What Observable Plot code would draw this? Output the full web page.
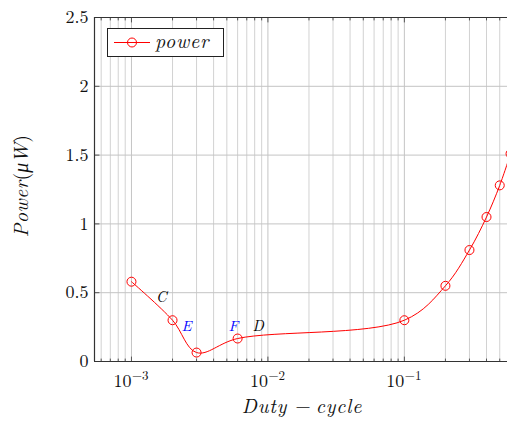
<!DOCTYPE html>
<html><head><meta charset="utf-8">
<script src="https://cdn.jsdelivr.net/npm/d3@7"></script>
<script src="https://cdn.jsdelivr.net/npm/@observablehq/plot@0.6"></script>
<style>body{margin:0;background:#fff} #chart{position:relative;width:507px;height:423px}</style>
</head><body><div id="chart"></div>
<script>
const dutyCycle = [0.001, 0.002, 0.003, 0.006, 0.1, 0.2, 0.3, 0.4, 0.5, 0.6];
const power = [0.58, 0.30, 0.065, 0.167, 0.30, 0.55, 0.81, 1.05, 1.28, 1.51];
const annoLabel = ["C", "E", "F", "D"];
const annoX = [0.00166, 0.00253, 0.00558, 0.0085];
const annoY = [0.47, 0.254, 0.254, 0.254];
const annoColor = ["black", "blue", "blue", "black"];
const yTicks = [0, 0.5, 1, 1.5, 2, 2.5];
const xMajor = [0.001, 0.01, 0.1];
const xExponent = ["−3", "−2", "−1"];
const xDomain = [0.000536, 0.57];
const yDomain = [0, 2.5];

const data = dutyCycle.map((d, i) => ({x: d, y: power[i]}));
const annos = annoLabel.map((t, i) => ({t, x: annoX[i], y: annoY[i], c: annoColor[i]}));
const xMinor = [];
for (let k = -4; k <= 0; k++) for (let m = 2; m <= 9; m++) {
  const v = m * Math.pow(10, k);
  if (v > xDomain[0] && v < xDomain[1]) xMinor.push(+v.toPrecision(3));
}
const FONT = "Latin Modern Roman";
const tickShape = {draw(ctx, l) { ctx.moveTo(0, 0); ctx.lineTo(0, -l); }};

const chart = Plot.plot({
  width: 507, height: 423,
  marginLeft: 94, marginRight: 0, marginTop: 17, marginBottom: 62,
  style: {fontFamily: FONT, fontSize: "17px", background: "white"},
  x: {type: "log", domain: xDomain, axis: null},
  y: {domain: yDomain, axis: null},
  marks: [
    Plot.ruleX(xMinor, {stroke: "#d2d2d2", strokeWidth: 1}),
    Plot.ruleX(xMajor, {stroke: "#c4c4c4", strokeWidth: 1}),
    Plot.ruleY(yTicks, {stroke: "#c4c4c4", strokeWidth: 1}),
    Plot.vector(xMinor, {x: d => d, frameAnchor: "bottom", length: 2.5, anchor: "start", shape: tickShape, stroke: "#555", strokeWidth: 1}),
    Plot.vector(xMinor, {x: d => d, frameAnchor: "top", length: 2.5, anchor: "start", rotate: 180, shape: tickShape, stroke: "#555", strokeWidth: 1}),
    Plot.vector(xMajor, {x: d => d, frameAnchor: "bottom", length: 4.5, anchor: "start", shape: tickShape, stroke: "#555", strokeWidth: 1}),
    Plot.vector(xMajor, {x: d => d, frameAnchor: "top", length: 4.5, anchor: "start", rotate: 180, shape: tickShape, stroke: "#555", strokeWidth: 1}),
    Plot.vector(yTicks, {y: d => d, frameAnchor: "left", length: 4.5, anchor: "start", rotate: 90, shape: tickShape, stroke: "#555", strokeWidth: 1}),
    Plot.ruleY([yDomain[0]], {stroke: "#333", strokeWidth: 1.2}),
    Plot.ruleY([yDomain[1]], {stroke: "#333", strokeWidth: 1.2}),
    Plot.ruleX([xDomain[0]], {stroke: "#333", strokeWidth: 1.2}),
    Plot.axisY({ticks: yTicks, tickSize: 0, tickPadding: 6, label: null, tickFormat: d => String(d), fontFamily: FONT, fontSize: 18, fill: "#111"}),
    Plot.text(xMajor, {x: d => d, text: () => "10", frameAnchor: "bottom", textAnchor: "end", lineAnchor: "bottom", dy: 25, dx: 0, fontFamily: FONT, fontSize: 18, fill: "#111"}),
    Plot.text(xMajor, {x: d => d, text: (d, i) => xExponent[i], frameAnchor: "bottom", textAnchor: "start", lineAnchor: "bottom", dy: 18, dx: 0.5, fontFamily: FONT, fontSize: 13, fill: "#111"}),
    Plot.line(data, {x: "x", y: "y", curve: "catmull-rom", stroke: "red", strokeWidth: 1}),
    Plot.dot(data, {x: "x", y: "y", r: 4.5, stroke: "red", strokeWidth: 1, fill: "none"}),
    Plot.text(annos, {x: "x", y: "y", text: "t", fill: "c", fontStyle: "italic", fontFamily: FONT, fontSize: 15})
  ]
});
document.getElementById("chart").appendChild(chart);

const svg = d3.select(chart);
// y-axis label
const yl = svg.append("text")
  .attr("transform", "translate(28,186) rotate(-90)")
  .attr("text-anchor", "middle")
  .attr("font-family", FONT).style("font-family", FONT).style("font-size", "20px").attr("fill", "#111");
yl.append("tspan").attr("font-style", "italic").style("letter-spacing", "0.4px").text("Power");
yl.append("tspan").text("(");
yl.append("tspan").attr("font-style", "italic").text("μW");
yl.append("tspan").text(")");
// x-axis label
const xl = svg.append("text")
  .attr("x", 302).attr("y", 413).attr("text-anchor", "middle")
  .attr("font-family", FONT).style("font-family", FONT).style("font-size", "20px")
  .attr("fill", "#111");
xl.append("tspan").attr("font-style", "italic").style("letter-spacing", "0.8px").text("Duty");
xl.append("tspan").attr("dx", 8).text("−");
xl.append("tspan").attr("dx", 5).attr("font-style", "italic").style("letter-spacing", "0.8px").text("cycle");
// legend
const lg = svg.append("g");
lg.append("rect").attr("x", 107.5).attr("y", 28.5).attr("width", 116).attr("height", 28)
  .attr("fill", "white").attr("stroke", "#222").attr("stroke-width", 1);
lg.append("line").attr("x1", 114).attr("x2", 150).attr("y1", 42.5).attr("y2", 42.5).attr("stroke", "red");
lg.append("circle").attr("cx", 132).attr("cy", 42.5).attr("r", 4.5).attr("fill", "none").attr("stroke", "red");
lg.append("text").attr("x", 155).attr("y", 48).attr("text-anchor", "start").attr("font-style", "italic")
  .attr("font-family", FONT).style("font-family", FONT).style("font-size", "20px")
  .style("letter-spacing", "0.8px").attr("fill", "#111").text("power");
</script></body></html>
